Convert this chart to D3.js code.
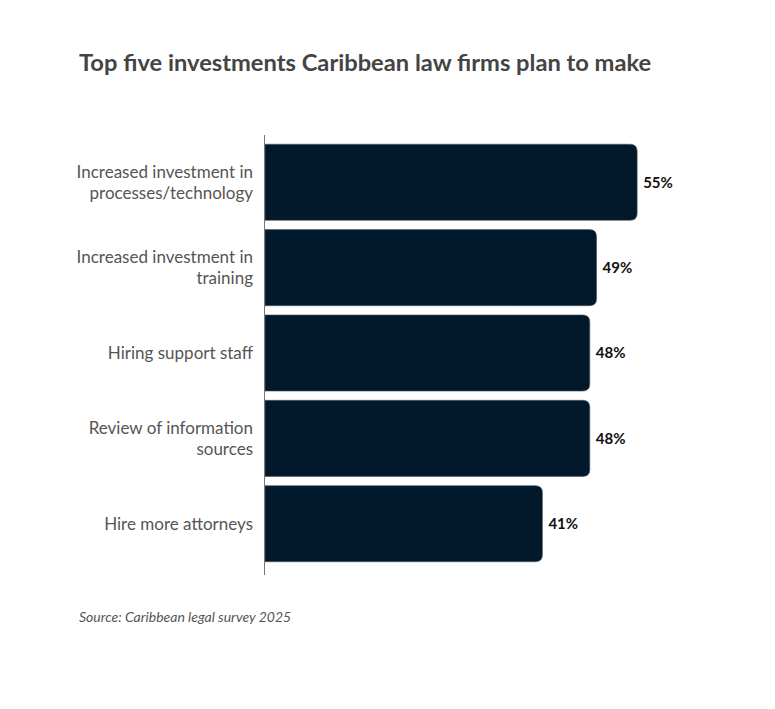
<!DOCTYPE html>
<html>
<head>
<meta charset="utf-8">
<script src="https://cdn.jsdelivr.net/npm/d3@7"></script>
<style>
  html, body { margin: 0; padding: 0; background: #fff; }
  svg { display: block; font-family: Lato, "Open Sans", sans-serif; }
</style>
</head>
<body>
<svg id="chart" width="775" height="709"></svg>
<script>
// Survey answers, top to bottom
const categories = [
  ["Increased investment in", "processes/technology"],
  ["Increased investment in", "training"],
  ["Hiring support staff"],
  ["Review of information", "sources"],
  ["Hire more attorneys"]
];
const shares = [55, 49, 48, 48, 41];
const valueLabels = ["55%", "49%", "48%", "48%", "41%"];

const svg = d3.select("#chart");
const barColor = "#02182b";

const x = d3.scaleLinear().domain([0, 60]).range([265, 671]);
const y = d3.scaleBand()
  .domain(d3.range(categories.length))
  .range([135, 571])
  .paddingInner(0.108)
  .paddingOuter(0.108);

// Title
svg.append("text")
  .attr("x", 79).attr("y", 71)
  .attr("font-size", 23.7).attr("font-weight", 700)
  .attr("fill", "#444")
  .text("Top five investments Caribbean law firms plan to make");

// Bars: flat on the left, rounded on the right
const r = 7;
function barPath(x0, x1, y0, h) {
  return `M${x0},${y0}H${x1 - r}Q${x1},${y0} ${x1},${y0 + r}` +
         `V${y0 + h - r}Q${x1},${y0 + h} ${x1 - r},${y0 + h}H${x0}Z`;
}
svg.append("g").selectAll("path")
  .data(shares)
  .join("path")
  .attr("d", (d, i) => barPath(x(0), x(d), y(i), y.bandwidth()))
  .attr("fill", barColor)
  .attr("stroke", "#4d5b69")
  .attr("stroke-width", 0.6);

// Value labels
svg.append("g").selectAll("text")
  .data(shares)
  .join("text")
  .attr("x", d => x(d) + 6)
  .attr("y", (d, i) => y(i) + y.bandwidth() / 2)
  .attr("dy", "0.35em")
  .attr("font-size", 15).attr("font-weight", 700)
  .attr("fill", "#111")
  .text((d, i) => valueLabels[i]);

// Category labels
const lineH = 21;
const cat = svg.append("g").selectAll("text")
  .data(categories)
  .join("text")
  .attr("text-anchor", "end")
  .attr("font-size", 17)
  .attr("fill", "#555")
  .attr("x", 253)
  .attr("y", (d, i) => y(i) + y.bandwidth() / 2 - (d.length - 1) * lineH / 2);
cat.selectAll("tspan")
  .data(d => d)
  .join("tspan")
  .attr("x", 253)
  .attr("dy", (d, j) => j === 0 ? "0.35em" : lineH)
  .text(d => d);

// Vertical axis line
svg.append("line")
  .attr("x1", 264.5).attr("x2", 264.5)
  .attr("y1", 135).attr("y2", 575)
  .attr("stroke", "#777").attr("stroke-width", 1);

// Source note
svg.append("text")
  .attr("x", 79).attr("y", 622)
  .attr("font-size", 14).attr("font-style", "italic")
  .attr("fill", "#555")
  .text("Source: Caribbean legal survey 2025");
</script>
</body>
</html>
